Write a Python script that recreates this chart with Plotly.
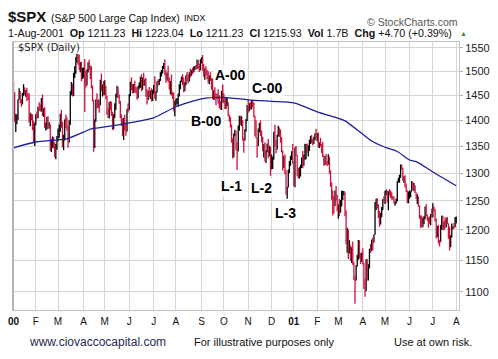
import math
import pandas as pd
import plotly.graph_objects as go

# ---------------- data ----------------
holidays = ["2000-01-17", "2000-02-21", "2000-04-21", "2000-05-29", "2000-07-04",
            "2000-09-04", "2000-11-23", "2000-12-25", "2001-01-01", "2001-01-15",
            "2001-02-19", "2001-04-13", "2001-05-28", "2001-07-04"]
dates = pd.bdate_range("2000-01-03", "2001-08-01", freq="C", holidays=holidays)

prior_close = 1469.25  # close of 31-Dec-1999

close = [
    # 2000 Jan
    1455.22, 1399.42, 1402.11, 1403.45, 1441.47, 1457.60, 1438.56, 1432.25, 1449.68, 1465.15,
    1455.14, 1455.90, 1445.57, 1441.36, 1401.53, 1410.03, 1404.09, 1398.56, 1360.16, 1394.46,
    # Feb
    1409.28, 1409.12, 1424.97, 1424.37, 1424.24, 1441.72, 1411.71, 1416.83, 1387.12, 1389.94,
    1402.05, 1387.67, 1388.26, 1346.09, 1352.17, 1360.69, 1353.43, 1333.36, 1348.05, 1366.42,
    # Mar
    1379.19, 1381.76, 1409.17, 1391.28, 1355.62, 1366.70, 1401.69, 1395.07, 1383.62, 1359.15,
    1392.14, 1458.47, 1464.47, 1456.63, 1493.87, 1500.64, 1527.35, 1527.46, 1523.86, 1507.73,
    1508.52, 1487.92, 1498.58,
    # Apr
    1505.97, 1494.73, 1487.37, 1501.34, 1516.35, 1504.46, 1500.59, 1467.17, 1440.51, 1356.56,
    1401.44, 1441.61, 1427.47, 1434.54, 1429.86, 1477.44, 1460.99, 1464.92, 1452.43,
    # May
    1468.25, 1446.29, 1415.10, 1409.57, 1432.63, 1424.17, 1412.14, 1383.05, 1407.81, 1420.96,
    1452.36, 1466.04, 1447.80, 1437.21, 1406.95, 1400.72, 1373.86, 1399.05, 1381.52, 1378.02,
    1422.45, 1420.60,
    # Jun
    1448.81, 1477.26, 1467.63, 1457.84, 1471.36, 1461.67, 1456.95, 1446.00, 1469.44, 1470.54,
    1478.73, 1464.46, 1486.00, 1475.95, 1479.13, 1452.18, 1441.48, 1455.31, 1450.55, 1454.82,
    1442.39, 1454.60,
    # Jul
    1469.54, 1446.23, 1456.67, 1478.90, 1475.62, 1480.88, 1492.92, 1495.84, 1509.98, 1510.49,
    1493.74, 1481.96, 1495.57, 1480.19, 1464.29, 1474.47, 1452.42, 1449.62, 1419.89, 1430.83,
    # Aug
    1438.10, 1438.70, 1452.56, 1462.93, 1479.32, 1482.80, 1472.87, 1460.25, 1471.84, 1491.56,
    1484.43, 1479.85, 1496.07, 1491.72, 1499.48, 1498.13, 1505.97, 1508.31, 1506.45, 1514.09,
    1509.84, 1502.59, 1517.68,
    # Sep
    1520.77, 1507.08, 1492.25, 1502.51, 1494.50, 1489.26, 1481.99, 1484.91, 1480.87, 1465.81,
    1444.51, 1459.90, 1451.34, 1449.05, 1448.72, 1439.03, 1427.21, 1426.57, 1458.29, 1436.51,
    # Oct
    1436.23, 1426.46, 1434.32, 1436.28, 1408.99, 1402.03, 1387.02, 1364.59, 1329.78, 1374.17,
    1374.62, 1349.97, 1342.13, 1388.76, 1396.93, 1395.78, 1398.13, 1364.90, 1364.44, 1379.58,
    1398.66, 1429.40,
    # Nov
    1421.22, 1428.32, 1426.69, 1432.19, 1431.87, 1409.28, 1400.14, 1365.98, 1351.26, 1382.95,
    1389.81, 1372.32, 1367.72, 1342.62, 1347.35, 1322.36, 1341.77, 1348.97, 1336.09, 1341.93,
    1314.95,
    # Dec
    1315.23, 1324.97, 1376.54, 1351.46, 1343.55, 1369.89, 1380.20, 1371.18, 1359.99, 1340.93,
    1312.15, 1322.74, 1305.60, 1264.74, 1274.86, 1305.95, 1315.19, 1328.92, 1334.22, 1320.28,
    # 2001 Jan
    1283.27, 1347.56, 1333.34, 1298.35, 1295.86, 1300.80, 1313.27, 1326.82, 1318.55, 1326.65,
    1329.47, 1347.97, 1342.54, 1342.90, 1360.40, 1364.30, 1357.51, 1354.95, 1364.17, 1373.73,
    1366.01,
    # Feb
    1373.47, 1349.47, 1354.31, 1352.26, 1340.89, 1332.53, 1314.76, 1330.31, 1318.80, 1315.92,
    1326.61, 1301.53, 1278.94, 1255.27, 1252.82, 1245.86, 1267.65, 1257.94, 1239.94,
    # Mar
    1241.23, 1234.18, 1241.41, 1253.80, 1261.89, 1264.74, 1233.42, 1180.16, 1197.66, 1166.71,
    1173.56, 1150.53, 1170.81, 1142.62, 1122.14, 1117.58, 1139.83, 1152.69, 1182.17, 1153.29,
    1147.95, 1160.33,
    # Apr
    1145.87, 1106.46, 1103.25, 1151.44, 1128.43, 1137.59, 1168.38, 1165.89, 1183.50, 1179.68,
    1191.81, 1238.16, 1253.69, 1242.98, 1224.36, 1209.47, 1228.75, 1234.52, 1253.05, 1249.46,
    # May
    1266.44, 1267.43, 1248.58, 1266.61, 1263.51, 1261.20, 1255.54, 1255.18, 1245.67, 1248.92,
    1249.44, 1284.99, 1288.49, 1291.96, 1312.83, 1309.38, 1289.05, 1293.17, 1277.89, 1267.93,
    1248.08, 1255.82,
    # Jun
    1260.67, 1267.11, 1283.57, 1270.03, 1276.96, 1264.96, 1254.39, 1255.85, 1241.60, 1219.87,
    1214.36, 1208.43, 1212.58, 1223.14, 1237.04, 1225.35, 1218.60, 1216.76, 1211.07, 1226.20,
    1224.38,
    # Jul
    1236.72, 1234.45, 1219.24, 1190.59, 1198.78, 1181.52, 1180.18, 1208.14, 1215.68, 1202.45,
    1214.44, 1207.71, 1215.02, 1210.85, 1191.03, 1171.65, 1190.49, 1202.93, 1205.82, 1204.52,
    1211.23,
    # Aug
    1215.93,
]

# points of the daily range above / below the bar body (open..close)
wick_up = [
    9, 1, 11, 8, 0, 7, 1, 4, 5, 8, 1, 5, 10, 9, 13, 5, 3, 8, 0, 0,
    3, 8, 2, 11, 7, 3, 10, 7, 9, 6, 5, 6, 8, 4, 11, 8, 7, 4, 6, 3,
    5, 10, 4, 12, 6, 5, 0, 10, 11, 6, 8, 0, 13, 10, 3, 10, 3, 10, 9, 12, 11, 12, 9,
    2, 20, 6, 3, 3, 8, 8, 10, 3, 0, 0, 0, 13, 7, 6, 5, 18, 8, 15,
    13, 1, 3, 9, 4, 6, 13, 5, 4, 13, 1, 4, 1, 4, 2, 5, 3, 6, 12, 13, 0, 11,
    4, 1, 10, 6, 2, 9, 6, 10, 0, 6, 10, 15, 1, 11, 4, 7, 11, 4, 12, 5, 10, 7,
    2, 20, 2, 0, 4, 3, 5, 7, 1, 7, 15, 8, 2, 16, 7, 5, 19, 5, 6, 8,
    5, 6, 1, 10, 1, 6, 11, 14, 6, 0, 7, 9, 2, 10, 3, 8, 4, 3, 5, 11, 10, 6, 8,
    9, 14, 8, 4, 8, 8, 11, 6, 13, 5, 19, 0, 7, 3, 4, 14, 11, 11, 1, 19,
    18, 10, 11, 9, 0, 2, 5, 5, 0, 0, 7, 5, 7, 1, 12, 12, 10, 2, 1, 3, 4, 1,
    12, 6, 8, 7, 9, 4, 0, 0, 0, 1, 5, 10, 8, 0, 7, 10, 0, 6, 15, 9, 7,
    19, 5, 1, 15, 10, 2, 9, 6, 11, 7, 1, 9, 12, 0, 0, 0, 7, 3, 6, 20,
    1, 0, 3, 0, 11, 10, 2, 2, 14, 7, 25, 6, 7, 9, 2, 5, 7, 6, 4, 1, 10,
    2, 3, 3, 12, 2, 17, 0, 1, 5, 3, 8, 4, 3, 4, 13, 6, 1, 9, 3,
    3, 12, 10, 14, 6, 3, 0, 0, 6, 3, 9, 1, 0, 10, 5, 2, 2, 6, 1, 0, 8, 2,
    9, 0, 14, 0, 0, 6, 0, 8, 0, 4, 0, 10, 0, 1, 1, 8, 0, 5, 0, 5,
    1, 3, 1, 0, 4, 5, 4, 3, 3, 0, 5, 0, 3, 5, 3, 3, 0, 1, 3, 3, 1, 11,
    8, 0, 2, 0, 5, 1, 0, 6, 2, 0, 5, 10, 8, 0, 3, 7, 1, 3, 6, 1, 10,
    9, 3, 1, 0, 8, 10, 2, 0, 9, 8, 0, 7, 5, 7, 0, 15, 0, 8, 0, 6, 11,
    7,
]
wick_dn = [
    17, 2, 22, 10, 3, 0, 4, 5, 0, 0, 4, 8, 7, 0, 6, 13, 4, 18, 4, 10,
    4, 6, 5, 6, 6, 7, 3, 5, 2, 7, 8, 3, 4, 5, 7, 5, 8, 4, 8, 5,
    7, 13, 4, 6, 8, 13, 6, 10, 4, 12, 2, 1, 8, 9, 8, 8, 6, 9, 10, 5, 10, 9, 4,
    12, 78, 21, 17, 4, 2, 17, 3, 3, 17, 10, 4, 4, 3, 15, 0, 2, 13, 2,
    2, 4, 4, 5, 6, 4, 3, 2, 0, 3, 0, 7, 3, 4, 3, 12, 5, 12, 1, 8, 0, 5,
    0, 0, 7, 4, 3, 5, 3, 5, 2, 6, 5, 6, 3, 6, 6, 5, 10, 1, 4, 8, 5, 4,
    1, 3, 7, 1, 6, 4, 1, 4, 0, 5, 2, 6, 1, 3, 2, 12, 3, 7, 2, 12,
    2, 6, 11, 5, 0, 2, 2, 4, 2, 1, 6, 6, 1, 5, 1, 4, 0, 4, 2, 2, 4, 4, 0,
    1, 6, 4, 10, 3, 6, 7, 9, 1, 5, 2, 4, 10, 19, 6, 6, 3, 5, 6, 1,
    2, 4, 4, 6, 1, 5, 1, 8, 3, 1, 5, 8, 36, 2, 9, 5, 7, 4, 27, 4, 2, 0,
    6, 3, 5, 5, 6, 3, 31, 1, 23, 1, 6, 3, 10, 2, 14, 1, 4, 3, 9, 5, 20,
    8, 8, 0, 1, 7, 0, 2, 3, 3, 3, 8, 3, 8, 4, 11, 1, 6, 2, 5, 3,
    7, 9, 2, 4, 6, 6, 7, 4, 10, 5, 2, 4, 5, 12, 2, 6, 2, 3, 1, 3, 2,
    7, 2, 3, 3, 4, 3, 1, 0, 3, 3, 0, 3, 4, 3, 28, 18, 5, 7, 8,
    21, 11, 5, 1, 2, 2, 10, 4, 18, 15, 6, 2, 5, 0, 4, 36, 0, 0, 2, 0, 4, 1,
    3, 2, 11, 2, 11, 11, 1, 4, 1, 14, 1, 0, 4, 6, 4, 4, 0, 7, 0, 2,
    5, 6, 2, 15, 4, 6, 3, 3, 0, 4, 4, 0, 2, 6, 0, 3, 3, 7, 4, 2, 2, 2,
    2, 4, 0, 0, 3, 1, 1, 10, 2, 1, 11, 4, 4, 3, 5, 2, 3, 13, 0, 3, 3,
    3, 3, 5, 5, 3, 4, 8, 0, 8, 3, 2, 5, 3, 1, 6, 6, 0, 3, 2, 2, 0,
    0,
]

# 200-day moving average
ma_dates = ["2000-01-03", "2000-02-01", "2000-03-01", "2000-03-13", "2000-04-03", "2000-04-11",
            "2000-05-01", "2000-06-01", "2000-07-03", "2000-08-01", "2000-09-01", "2000-10-02",
            "2000-11-01", "2000-12-01", "2001-01-02", "2001-02-01", "2001-03-01", "2001-03-09",
            "2001-04-02", "2001-04-12", "2001-05-01", "2001-05-16", "2001-06-01", "2001-06-11",
            "2001-07-02", "2001-08-01"]
ma_values = [1347, 1358, 1362, 1364, 1377, 1383,
             1387, 1395, 1405, 1427, 1443, 1446,
             1441, 1438, 1435, 1417, 1404, 1399,
             1373, 1360, 1348, 1340, 1324, 1321,
             1302, 1277]

month_letters = ["J", "F", "M", "A", "M", "J", "J", "A", "S", "O", "N", "D"]
y_ticks = [1100, 1150, 1200, 1250, 1300, 1350, 1400, 1450, 1500, 1550]

assert len(close) == len(dates) == len(wick_up) == len(wick_dn), (
    len(close), len(dates), len(wick_up), len(wick_dn))

# ---------------- build ----------------
n = len(close)
idx = list(range(n))
opens = [prior_close] + close[:-1]
highs = [max(o, c) + u for o, c, u in zip(opens, close, wick_up)]
lows = [min(o, c) - d for o, c, d in zip(opens, close, wick_dn)]

date_pos = {d.strftime("%Y-%m-%d"): i for i, d in enumerate(dates)}
ma_x = [date_pos[d] for d in ma_dates]

up_i = [i for i in idx if close[i] >= opens[i]]
dn_i = [i for i in idx if close[i] < opens[i]]

RED = "#d1103c"
BLACK = "#000000"


def ohlc(sel, color):
    return go.Ohlc(
        x=[i for i in sel],
        open=[opens[i] for i in sel], high=[highs[i] for i in sel],
        low=[lows[i] for i in sel], close=[close[i] for i in sel],
        increasing=dict(line=dict(color=color, width=1.3)),
        decreasing=dict(line=dict(color=color, width=1.3)),
        tickwidth=0.45, hoverinfo="skip", showlegend=False,
    )


fig = go.Figure()
fig.add_trace(ohlc(up_i, BLACK))
fig.add_trace(ohlc(dn_i, RED))
fig.add_trace(go.Scatter(x=ma_x, y=ma_values, mode="lines",
                         line=dict(color="#1a1f9c", width=1.3, shape="spline", smoothing=0.6),
                         hoverinfo="skip", showlegend=False))

# month ticks
tickvals, ticktext = [], []
prev = None
for i, d in enumerate(dates):
    key = (d.year, d.month)
    if key != prev:
        tickvals.append(i)
        if d.month == 1:
            ticktext.append("<b>%02d</b>" % (d.year % 100))
        else:
            ticktext.append(month_letters[d.month - 1])
        prev = key

FONT = "Liberation Sans, Arial, sans-serif"
GRID = "#d6d6d6"

fig.update_layout(
    width=498, height=359,
    margin=dict(l=8, r=31, t=42, b=49),
    paper_bgcolor="white", plot_bgcolor="white",
    font=dict(family=FONT, color="#111"),
    xaxis=dict(range=[-0.5, 400.5], tickvals=tickvals, ticktext=ticktext,
               showgrid=True, gridcolor=GRID, gridwidth=1, zeroline=False,
               tickfont=dict(size=10, color="#111"), ticks="outside", ticklen=2,
               tickcolor="white", showline=True, linecolor="#c4c4c4", mirror=True,
               rangeslider=dict(visible=False), fixedrange=True),
    yaxis=dict(type="log", range=[math.log10(1072.2), math.log10(1563.1)],
               side="right", tickvals=y_ticks, ticktext=[str(v) for v in y_ticks],
               showgrid=True, gridcolor=GRID, gridwidth=1, zeroline=False,
               tickfont=dict(size=11, color="#222"), ticks="outside", ticklen=3,
               tickcolor="#b0b0b0", showline=True, linecolor="#c4c4c4", mirror=True,
               fixedrange=True),
)

# thicker left border
fig.add_shape(type="line", xref="paper", yref="paper", x0=0, x1=0, y0=0, y1=1,
              line=dict(color="#b4b4b4", width=2))


def ann(text, x, y, size, xanchor="left", color="#111", **kw):
    fig.add_annotation(text=text, x=x, y=y, xref="paper", yref="paper", showarrow=False,
                       xanchor=xanchor, yanchor="middle",
                       font=dict(size=size, color=color, family=kw.pop("family", FONT)), **kw)


# header (pixel positions converted to paper coordinates)
W, H = 459.0, 268.0


def px(xp):
    return (xp - 8) / W


def py(yp):
    return (310 - yp) / H


ann("<b>$SPX</b>", px(1), py(17), 15)
ann("(S&P 500 Large Cap Index)", px(45), py(18), 10.5)
ann("INDX", px(182), py(18), 9)
ann("© StockCharts.com", px(468), py(22), 10.5, xanchor="right", color="#555")
ann("1-Aug-2001  <b>Op</b> 1211.23  <b>Hi</b> 1223.04  <b>Lo</b> 1211.23  <b>Cl</b> 1215.93  "
    "<b>Vol</b> 1.7B  <b>Chg</b> +4.70 (+0.39%)", px(1), py(33), 10.7)
ann("▲", px(472), py(33), 7, xanchor="center", color="#2e8b2e")
ann("$SPX (Daily)", px(11), py(48), 10, family="DejaVu Sans, sans-serif", color="#222")

# chart notes
for t, xc, yc in [("A-00", 232, 75), ("C-00", 269.5, 88), ("B-00", 207.5, 121),
                  ("L-1", 233, 186), ("L-2", 264, 188), ("L-3", 288.5, 213)]:
    ann("<b>%s</b>" % t, px(xc), py(yc), 14, xanchor="center", color="#000",
        bgcolor="white", borderpad=1)

# footer
ann("www.ciovaccocapital.com", px(22), py(342), 12, color="#1f2a55")
ann("For illustrative purposes only", px(192), py(342), 11)
ann("Use at own risk.", px(398), py(342), 11)

fig.write_html("out.html", config={"displayModeBar": False},
               post_script="document.body.style.margin='0';document.body.style.overflow='hidden';")
